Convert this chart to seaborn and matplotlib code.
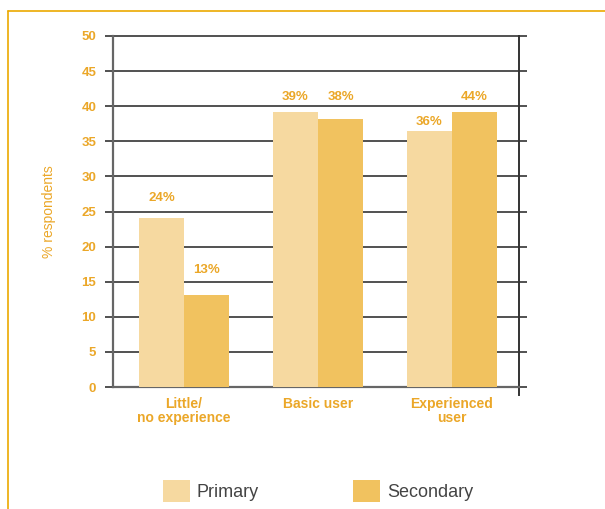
import matplotlib
matplotlib.use("Agg")
import matplotlib.pyplot as plt
import seaborn as sns
import pandas as pd
from matplotlib.lines import Line2D
from matplotlib.patches import Patch

categories = ["Little/\nno experience", "Basic user", "Experienced\nuser"]
series = ["Primary", "Secondary"]
primary = [24.1, 39.2, 36.5]
secondary = [13.1, 38.2, 39.2]
primary_labels = ["24%", "39%", "36%"]
secondary_labels = ["13%", "38%", "44%"]
primary_label_levels = [26.9, 41.3, 37.7]
secondary_label_levels = [16.7, 41.3, 41.3]
yticks = [0, 5, 10, 15, 20, 25, 30, 35, 40, 45, 50]

df = pd.DataFrame({
    "category": categories * 2,
    "series": [series[0]] * 3 + [series[1]] * 3,
    "value": primary + secondary,
})

sns.set_theme(style="white")
plt.rcParams['font.family'] = ['Liberation Sans', 'DejaVu Sans']

orange = "#EBA728"
c_primary = "#F6D9A0"
c_secondary = "#F1C25F"

fig = plt.figure(figsize=(6.05, 5.09), dpi=100)
ax = fig.add_axes([113/605, 1-387/509, (519-113)/605, (387-36)/509])

sns.barplot(data=df, x="category", y="value", hue="series", order=categories,
            hue_order=series, palette=[c_primary, c_secondary], width=0.672,
            saturation=1, legend=False, ax=ax, linewidth=0, zorder=3)

ax.set_xlim(-0.53, 2.5)
ax.set_ylim(0, 50)
ax.set_yticks(yticks)
ax.set_yticklabels([str(t) for t in yticks], color=orange, fontweight="bold", fontsize=9.5)
ax.yaxis.grid(True, color="#333333", linewidth=1.2, zorder=0)
for gl in ax.get_ygridlines():
    gl.set_clip_on(False)
ax.set_axisbelow(True)
ax.tick_params(axis="y", which="both", direction="out", length=6, width=1.2,
               color="#333333", left=True, right=True, pad=6)
ax.tick_params(axis="x", length=0, pad=7)
ax.set_xticks(range(len(categories)))
ax.set_xticklabels(categories, color=orange, fontweight="bold", fontsize=10,
                   linespacing=1.0)
ax.set_xlabel("")
ax.set_ylabel("% respondents", color=orange, fontsize=10, labelpad=18)

ax.spines["top"].set_visible(False)
ax.spines["left"].set_color("#666666")
ax.spines["left"].set_linewidth(1.6)
ax.spines["bottom"].set_color("#666666")
ax.spines["bottom"].set_linewidth(1.6)
ax.spines["right"].set_color("#333333")
ax.spines["right"].set_linewidth(1.4)
ax.spines["right"].set_bounds(-1.1, 50)

off = 0.168
for i in range(len(categories)):
    ax.text(i - off, primary_label_levels[i], primary_labels[i], ha="center", va="center",
            color=orange, fontweight="bold", fontsize=9.5)
    ax.text(i + off, secondary_label_levels[i], secondary_labels[i], ha="center", va="center",
            color=orange, fontweight="bold", fontsize=9.5)

handles = [Patch(facecolor=c_primary, edgecolor="none"),
           Patch(facecolor=c_secondary, edgecolor="none")]
leg = fig.legend(handles, series, loc="center", bbox_to_anchor=(318/605, 1-491/509),
                 ncol=2, frameon=False, fontsize=13, handlelength=1.5, handleheight=1.5,
                 handletextpad=0.4, columnspacing=5.2)
for t in leg.get_texts():
    t.set_color("#444444")

fig.add_artist(Line2D([8/605, 8/605], [0, 1-11/509], transform=fig.transFigure,
                      color="#EBA900", linewidth=1.2))
fig.add_artist(Line2D([8/605, 1], [1-11/509, 1-11/509], transform=fig.transFigure,
                      color="#EBA900", linewidth=1.2))

fig.savefig("out.png", dpi=100)
